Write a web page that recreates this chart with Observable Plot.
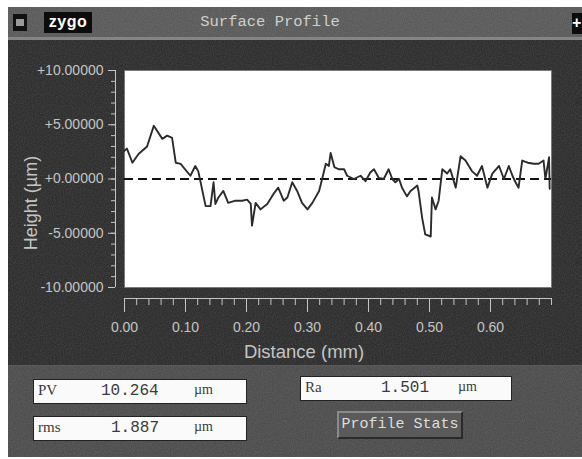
<!DOCTYPE html>
<html>
<head>
<meta charset="utf-8">
<script src="https://cdn.jsdelivr.net/npm/d3@7"></script>
<script src="https://cdn.jsdelivr.net/npm/@observablehq/plot@0.6"></script>
<style>
  html, body { margin: 0; padding: 0; background: #ffffff; }
  #wrap { position: absolute; left: 8px; top: 7px; width: 574px; height: 450px; overflow: hidden; }
  .noise { background-image: url("data:image/svg+xml;utf8,<svg xmlns='http://www.w3.org/2000/svg' width='160' height='160'><filter id='n'><feTurbulence type='fractalNoise' baseFrequency='0.9' numOctaves='2' stitchTiles='stitch'/><feColorMatrix values='0 0 0 0 1  0 0 0 0 1  0 0 0 0 1  0 0 0 0.55 -0.2'/></filter><rect width='160' height='160' filter='url(%23n)' opacity='0.35'/></svg>"); }
  #titlebar { position: relative; height: 30px; background-color: #5b5b5b; border-bottom: 3px solid #858585; }
  #chart { height: 325px; background-color: #2f2f2f; }
  #chart svg { display: block; }
  #stats { position: relative; height: 92px; background-color: #4e4e4e; border-top: 1px solid #5a5a5a; box-sizing: border-box; }
  .mono { font-family: "Liberation Mono", "DejaVu Sans Mono", monospace; }
  .box { position: absolute; background: #fafafa; border: 1px solid #222; box-sizing: border-box; color: #3a3a3a; font-size: 16px; }
  .box span { position: absolute; top: 2px; }
</style>
</head>
<body>
<div id="wrap">
  <div id="titlebar" class="noise">
    <div style="position:absolute;left:5px;top:7px;width:14px;height:17px;background:#111;">
      <div style="position:absolute;left:3px;top:5px;width:8px;height:7px;background:#9a9a9a;"></div>
    </div>
    <div style="position:absolute;left:36px;top:5px;width:48px;height:21px;background:#0c0c0c;color:#fff;font:bold 16px 'Liberation Sans',sans-serif;line-height:19px;text-align:center;letter-spacing:0.5px;">zygo</div>
    <div class="mono" id="ttl" style="position:absolute;left:0;width:524px;top:6px;text-align:center;color:#cfcfcf;font-size:15.5px;"></div>
    <div style="position:absolute;left:564px;top:6px;width:10px;height:21px;background:#0c0c0c;color:#fff;font:bold 16px 'Liberation Sans',sans-serif;line-height:20px;">+</div>
  </div>
  <div id="chart" class="noise"></div>
  <div id="stats" class="noise"></div>
</div>
<script>
// ---- data ----
const title = "Surface Profile";
const distanceMm = [0.000,0.004,0.013,0.023,0.037,0.048,0.062,0.070,0.078,0.084,0.092,0.108,0.116,0.121,0.133,0.141,0.146,0.149,0.154,0.162,0.170,0.182,0.193,0.201,0.207,0.209,0.215,0.223,0.234,0.244,0.252,0.261,0.267,0.275,0.283,0.291,0.300,0.308,0.319,0.324,0.330,0.335,0.338,0.344,0.351,0.360,0.365,0.376,0.387,0.395,0.403,0.409,0.417,0.425,0.433,0.439,0.444,0.450,0.455,0.463,0.469,0.480,0.482,0.488,0.493,0.502,0.504,0.510,0.515,0.521,0.529,0.534,0.543,0.551,0.559,0.570,0.578,0.586,0.595,0.603,0.614,0.622,0.630,0.636,0.641,0.646,0.652,0.661,0.671,0.679,0.687,0.690,0.696,0.697];
const heightUm   = [2.6,2.8,1.5,2.3,3.0,4.9,3.7,4.0,3.8,1.5,1.4,0.3,1.2,0.7,-2.5,-2.5,-0.3,-2.3,-1.7,-1.1,-2.2,-2.0,-2.0,-1.9,-2.3,-4.3,-2.2,-2.8,-2.3,-1.4,-0.8,-2.0,-1.7,-0.3,-1.1,-2.2,-2.8,-2.2,-1.1,0.0,1.4,1.2,2.4,1.1,0.9,0.9,0.3,0.0,0.3,-0.2,0.6,0.9,0.1,0.0,0.9,0.0,-0.3,0.0,-0.8,-1.6,-1.1,-0.6,-1.1,-3.6,-5.1,-5.3,-1.7,-2.8,-2.0,0.9,0.5,0.9,-0.8,2.1,1.7,0.7,0.3,1.2,-0.8,0.5,1.2,0.0,1.2,0.3,-0.3,-0.8,1.7,1.5,1.4,1.4,1.7,0.0,2.0,-0.9];

const yTickValues = [-10, -5, 0, 5, 10];
const yTickLabels = ["-10.00000", "-5.00000", "+0.00000", "+5.00000", "+10.00000"];
const xTickValues = [0, 0.1, 0.2, 0.3, 0.4, 0.5, 0.6];
const xTickLabels = ["0.00", "0.10", "0.20", "0.30", "0.40", "0.50", "0.60"];
const yMinorTicks = d3.range(-10, 10.001, 1);
const xMinorTicks = d3.range(0, 0.7001, 0.02).map(v => +v.toFixed(2));
const xLabel = "Distance (mm)";
const yLabel = "Height (µm)";

const statNames  = ["PV", "rms", "Ra"];
const statValues = ["10.264", "1.887", "1.501"];
const statUnit = "µm";
const buttonLabel = "Profile Stats";

// ---- chart ----
document.getElementById("ttl").textContent = title;
const profile = distanceMm.map((d, i) => ({distance: d, height: heightUm[i]}));
const yLab = new Map(yTickValues.map((v, i) => [v, yTickLabels[i]]));
const xLab = new Map(xTickValues.map((v, i) => [v, xTickLabels[i]]));
const axisColor = "#c4c4c4";

const chart = Plot.plot({
  width: 574,
  height: 325,
  marginLeft: 116,
  marginRight: 31,
  marginTop: 30,
  marginBottom: 78,
  style: {background: "transparent", color: axisColor, fontFamily: "'Liberation Sans', Arial, sans-serif"},
  x: {domain: [0, 0.70], axis: null, label: null},
  y: {domain: [-10, 10], axis: null, label: null},
  marks: [
    Plot.frame({fill: "#ffffff", stroke: "#7a7a7a"}),
    Plot.ruleY([0], {stroke: "#111", strokeWidth: 2, strokeDasharray: "9,5"}),
    Plot.line(profile, {x: "distance", y: "height", stroke: "#2b2b2b", strokeWidth: 1.9}),
    // y ruler
    Plot.ruleX([0], {dx: -9, stroke: axisColor}),
    Plot.axisY(yMinorTicks, {anchor: "left", tickSize: 4, dx: -9, tickFormat: () => "", label: null, stroke: axisColor}),
    Plot.axisY(yTickValues, {anchor: "left", tickSize: 7, tickPadding: 5, dx: -9, tickFormat: d => yLab.get(d), label: null, stroke: axisColor, fill: axisColor, fontSize: 14}),
    // x ruler
    Plot.ruleY([-10], {dy: 11, stroke: axisColor}),
    Plot.axisX(xMinorTicks, {anchor: "bottom", tickSize: 7, dy: 11, tickFormat: () => "", label: null, stroke: axisColor}),
    Plot.axisX(xTickValues, {anchor: "bottom", tickSize: 14, tickPadding: 10, dy: 11, tickFormat: d => xLab.get(d), label: null, stroke: axisColor, fill: axisColor, fontSize: 14}),
    Plot.text([yLabel], {frameAnchor: "left", textAnchor: "middle", rotate: -90, dx: -93, dy: 24, fontSize: 18, fill: axisColor}),
    Plot.text([xLabel], {frameAnchor: "bottom", textAnchor: "middle", dx: -34, dy: 70, fontSize: 18.5, fill: axisColor})
  ]
});
document.getElementById("chart").appendChild(chart);

// ---- stats panel ----
const stats = document.getElementById("stats");
const boxes = [
  {left: 25, top: 13, w: 214, h: 25, name: 0, nx: 4, vx: 67, ux: 160},
  {left: 25, top: 50, w: 214, h: 25, name: 1, nx: 4, vx: 77, ux: 160},
  {left: 292, top: 10, w: 212, h: 25, name: 2, nx: 4, vx: 80, ux: 157}
];
for (const b of boxes) {
  const el = document.createElement("div");
  el.className = "box mono";
  el.style.cssText = `left:${b.left}px;top:${b.top}px;width:${b.w}px;height:${b.h}px;`;
  const n = document.createElement("span"); n.textContent = statNames[b.name]; n.style.left = b.nx + "px"; n.style.fontFamily = "'Liberation Serif', serif"; n.style.fontSize = "15px";
  const v = document.createElement("span"); v.textContent = statValues[b.name]; v.style.left = b.vx + "px";
  const u = document.createElement("span"); u.textContent = statUnit; u.style.left = b.ux + "px"; u.style.fontFamily = "'Liberation Serif', serif"; u.style.fontSize = "14px";
  el.append(n, v, u);
  stats.appendChild(el);
}
const btn = document.createElement("div");
btn.className = "mono";
btn.textContent = buttonLabel;
btn.style.cssText = "position:absolute;left:329px;top:45px;width:126px;height:28px;box-sizing:border-box;background:#5a5a5a;border:2px solid;border-color:#8a8a8a #2a2a2a #2a2a2a #8a8a8a;color:#dedede;font-size:15px;text-align:center;line-height:24px;";
stats.appendChild(btn);
</script>
</body>
</html>
